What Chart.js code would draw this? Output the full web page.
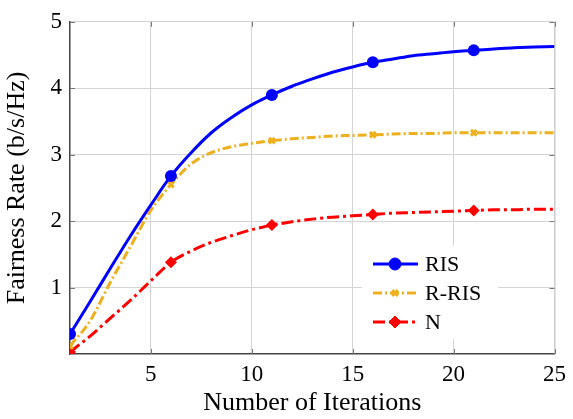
<!DOCTYPE html>
<html>
<head>
<meta charset="utf-8">
<script src="https://cdn.jsdelivr.net/npm/chart.js@4.4.1/dist/chart.umd.min.js"></script>
<style>
  html, body { margin: 0; padding: 0; background: #fff; }
  #wrap { width: 573px; height: 419px; }
</style>
</head>
<body>
<div id="wrap"><canvas id="chart"></canvas></div>
<script>
// iterations 1..25
const iterations = [1, 2, 3, 4, 5, 6, 7, 8, 9, 10, 11, 12, 13, 14, 15, 16, 17, 18, 19, 20, 21, 22, 23, 24, 25];
const risRate = [0.30, 0.79, 1.29, 1.78, 2.24, 2.68, 3.03, 3.33, 3.56, 3.75, 3.90, 4.03, 4.14, 4.24, 4.32, 4.39, 4.44, 4.49, 4.52, 4.55, 4.57, 4.59, 4.61, 4.62, 4.63];
const rRisRate = [0.12, 0.50, 1.08, 1.62, 2.16, 2.55, 2.86, 3.03, 3.12, 3.17, 3.21, 3.24, 3.26, 3.28, 3.29, 3.30, 3.31, 3.32, 3.32, 3.33, 3.33, 3.33, 3.33, 3.33, 3.33];
const nRate = [0.03, 0.27, 0.54, 0.81, 1.10, 1.38, 1.55, 1.68, 1.78, 1.87, 1.94, 1.99, 2.03, 2.06, 2.08, 2.10, 2.12, 2.13, 2.14, 2.15, 2.16, 2.17, 2.17, 2.18, 2.18];
const xTicks = [5, 10, 15, 20, 25];
const yTicks = [1, 2, 3, 4, 5];
const seriesNames = ['RIS', 'R-RIS', 'N'];

const serif = '"Liberation Serif", "Times New Roman", serif';
const toPoints = ys => iterations.map((x, i) => ({ x: x, y: ys[i] }));
// markers only every 5th iteration
const markEvery = r => ctx => (ctx.dataIndex % 5 === 0 ? r : 0);

// white legend box inside the plot
const insideLegend = {
  id: 'insideLegend',
  afterDatasetsDraw(chart) {
    const ctx = chart.ctx;
    const box = { x: 362, y: 246, w: 136, h: 93 };
    ctx.save();
    ctx.fillStyle = '#fff';
    ctx.fillRect(box.x, box.y, box.w, box.h);
    chart.data.datasets.forEach((ds, i) => {
      const y = box.y + 18 + i * 29;
      ctx.strokeStyle = ds.borderColor;
      ctx.lineWidth = ds.borderWidth;
      ctx.setLineDash(ds.borderDash || []);
      ctx.beginPath();
      ctx.moveTo(box.x + 11, y);
      ctx.lineTo(box.x + 56, y);
      ctx.stroke();
      ctx.setLineDash([]);
      ctx.fillStyle = ds.backgroundColor;
      ctx.strokeStyle = ds.borderColor;
      ctx.lineWidth = ds.pointBorderWidth || 1;
      Chart.helpers.drawPoint(ctx, {
        pointStyle: ds.pointStyle,
        radius: ds.legendRadius,
        borderWidth: ds.pointBorderWidth || 1
      }, box.x + 33, y);
      ctx.fillStyle = '#000';
      ctx.font = '22px ' + serif;
      ctx.textBaseline = 'middle';
      ctx.fillText(ds.label, box.x + 63, y + 1);
    });
    ctx.restore();
  }
};

// frame on the right and small inner tick marks
const frame = {
  id: 'frame',
  beforeDatasetsDraw(chart) {
    const ctx = chart.ctx;
    const a = chart.chartArea;
    const xs = chart.scales.x, ys = chart.scales.y;
    ctx.save();
    ctx.strokeStyle = '#c8c8c8';
    ctx.lineWidth = 1;
    ctx.beginPath();
    ctx.moveTo(a.right + 0.5, a.top);
    ctx.lineTo(a.right + 0.5, a.bottom);
    ctx.stroke();
    ctx.strokeStyle = '#777';
    ctx.beginPath();
    xTicks.forEach(v => {
      const px = Math.round(xs.getPixelForValue(v)) + 0.5;
      ctx.moveTo(px, a.bottom); ctx.lineTo(px, a.bottom - 5);
      ctx.moveTo(px, a.top); ctx.lineTo(px, a.top + 5);
    });
    yTicks.forEach(v => {
      const py = Math.round(ys.getPixelForValue(v)) + 0.5;
      ctx.moveTo(a.left, py); ctx.lineTo(a.left + 5, py);
      ctx.moveTo(a.right, py); ctx.lineTo(a.right - 5, py);
    });
    ctx.stroke();
    ctx.restore();
  }
};

new Chart(document.getElementById('chart'), {
  type: 'line',
  data: {
    datasets: [
      {
        label: seriesNames[0],
        data: toPoints(risRate),
        borderColor: '#0000ff',
        backgroundColor: '#0000ff',
        borderWidth: 3,
        pointStyle: 'circle',
        pointRadius: markEvery(6),
        legendRadius: 6,
        pointBorderWidth: 0,
        cubicInterpolationMode: 'monotone'
      },
      {
        label: seriesNames[1],
        data: toPoints(rRisRate),
        borderColor: '#edb120',
        backgroundColor: '#edb120',
        borderWidth: 3,
        borderDash: [9, 3, 2, 3],
        pointStyle: 'crossRot',
        pointRadius: markEvery(4),
        legendRadius: 4,
        pointBorderWidth: 3,
        cubicInterpolationMode: 'monotone'
      },
      {
        label: seriesNames[2],
        data: toPoints(nRate),
        borderColor: '#ff0000',
        backgroundColor: '#ff0000',
        borderWidth: 3,
        borderDash: [12, 4, 3, 4],
        pointStyle: 'rectRot',
        pointRadius: markEvery(6),
        legendRadius: 6,
        pointBorderWidth: 0,
        cubicInterpolationMode: 'monotone'
      }
    ]
  },
  options: {
    responsive: true,
    maintainAspectRatio: false,
    animation: false,
    layout: { padding: { top: 0, right: 12, left: 0, bottom: 0 } },
    plugins: {
      legend: { display: false },
      tooltip: { enabled: false }
    },
    scales: {
      x: {
        type: 'linear',
        min: 1,
        max: 25,
        afterBuildTicks: scale => { scale.ticks = xTicks.map(v => ({ value: v })); },
        afterFit: scale => { scale.height = 65; },
        grid: { color: '#d4d4d4', drawTicks: false },
        border: { color: '#444', width: 1.5 },
        ticks: { color: '#000', padding: 7, font: { family: serif, size: 23 } },
        title: {
          display: true,
          text: 'Number of Iterations',
          color: '#000',
          font: { family: serif, size: 26 },
          padding: { top: 0, bottom: 0 }
        }
      },
      y: {
        min: 0,
        max: 5,
        afterBuildTicks: scale => { scale.ticks = yTicks.map(v => ({ value: v })); },
        afterFit: scale => { scale.width = 70; },
        grid: { color: '#d4d4d4', drawTicks: false },
        border: { color: '#444', width: 1.5 },
        ticks: { color: '#000', padding: 8, font: { family: serif, size: 23 } },
        title: {
          display: true,
          text: 'Fairness Rate (b/s/Hz)',
          color: '#000',
          font: { family: serif, size: 26 },
          padding: { top: 2, bottom: 0 }
        }
      }
    }
  },
  plugins: [frame, insideLegend]
});
</script>
</body>
</html>
